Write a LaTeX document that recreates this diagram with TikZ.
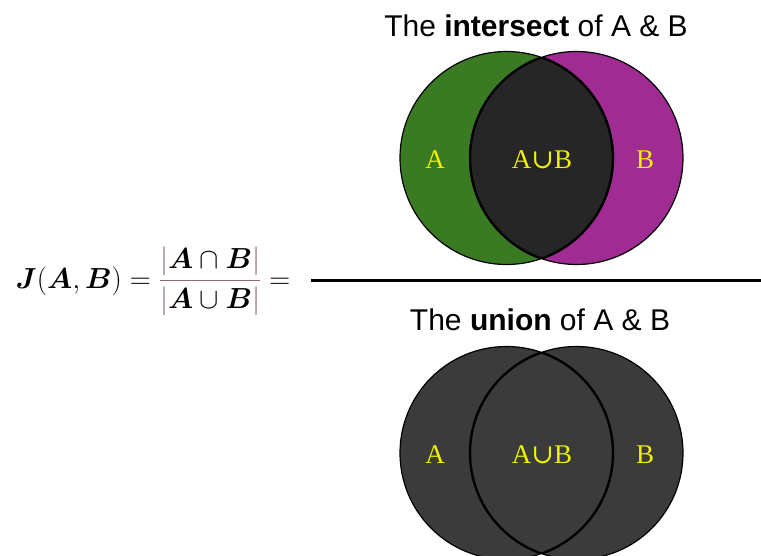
\RequirePackage{fix-cm}
\documentclass[tikz,border=0pt]{standalone}
\usepackage{fontspec}
\usepackage{amsmath}
\usepackage{bm}
\setmainfont{Liberation Serif}
\newfontfamily\titlefont{Liberation Sans}
\newfontfamily\symfnt{DejaVu Serif}
\definecolor{agreen}{RGB}{58,122,35}
\definecolor{bpurple}{RGB}{160,43,147}
\definecolor{interdark}{RGB}{38,38,38}
\definecolor{uniondark}{RGB}{59,59,59}
\definecolor{labyellow}{RGB}{240,240,0}
\definecolor{barcol}{RGB}{140,108,108}
\tikzset{
  titletext/.style={font=\titlefont\fontsize{30}{34}\selectfont, inner sep=0pt},
  setlabel/.style={font=\fontsize{27}{30}\selectfont, text=labyellow, inner sep=0pt},
  outline/.style={draw=black, line width=1.2pt},
  lens/.style={draw=black, line width=2.4pt},
}
\begin{document}
\begin{tikzpicture}[x=1pt,y=-1pt]
\useasboundingbox (0,0) rectangle (761,556);
% ---------- top Venn (intersection) ----------
\fill[agreen] (506.5,158) circle (106.5pt);
\fill[bpurple] (576.5,158) circle (106.5pt);
\begin{scope}
  \clip (506.5,158) circle (106.5pt);
  \fill[interdark] (576.5,158) circle (106.5pt);
\end{scope}
\draw[outline] (506.5,158) circle (106.5pt);
\draw[outline] (576.5,158) circle (106.5pt);
\begin{scope}
  \clip (506.5,158) circle (106.5pt);
  \draw[lens] (576.5,158) circle (106.5pt);
\end{scope}
\begin{scope}
  \clip (576.5,158) circle (106.5pt);
  \draw[lens] (506.5,158) circle (106.5pt);
\end{scope}
\node[setlabel] (tA) at (435,160) {A};
\node[setlabel] (tAB) at (542,160) {A{\symfnt ∪}B};
\node[setlabel] (tB) at (645,160) {B};
\node[titletext] (ttitle) at (536,26) {The \textbf{intersect} of A \& B};
% ---------- fraction line ----------
\coordinate (fl) at (311,281);
\coordinate (fr) at (761,281);
\draw[line width=3pt] (fl) -- (fr);
% ---------- bottom Venn (union) ----------
\begin{scope}
\fill[uniondark] (506.5,453) circle (106.5pt);
\fill[uniondark] (576.5,453) circle (106.5pt);
\draw[outline] (506.5,453) circle (106.5pt);
\draw[outline] (576.5,453) circle (106.5pt);
\begin{scope}
  \clip (506.5,453) circle (106.5pt);
  \draw[lens] (576.5,453) circle (106.5pt);
\end{scope}
\begin{scope}
  \clip (576.5,453) circle (106.5pt);
  \draw[lens] (506.5,453) circle (106.5pt);
\end{scope}
\end{scope}
\node[setlabel] (bA) at (435,455) {A};
\node[setlabel] (bAB) at (542,455) {A{\symfnt ∪}B};
\node[setlabel] (bB) at (645,455) {B};
\node[titletext] (btitle) at (540,320) {The \textbf{union} of A \& B};
% ---------- formula ----------
\node[inner sep=0pt, font=\fontsize{29}{34}\selectfont] (formula) at (153,281)
 {$\bm{J}(\bm{A},\bm{B}) = {\color{barcol}\dfrac{\textcolor{barcol}{|}\color{black}\bm{A}\cap\bm{B}\textcolor{barcol}{|}}{\textcolor{barcol}{|}\color{black}\bm{A}\cup\bm{B}\textcolor{barcol}{|}}} =$};
\end{tikzpicture}
\end{document}
